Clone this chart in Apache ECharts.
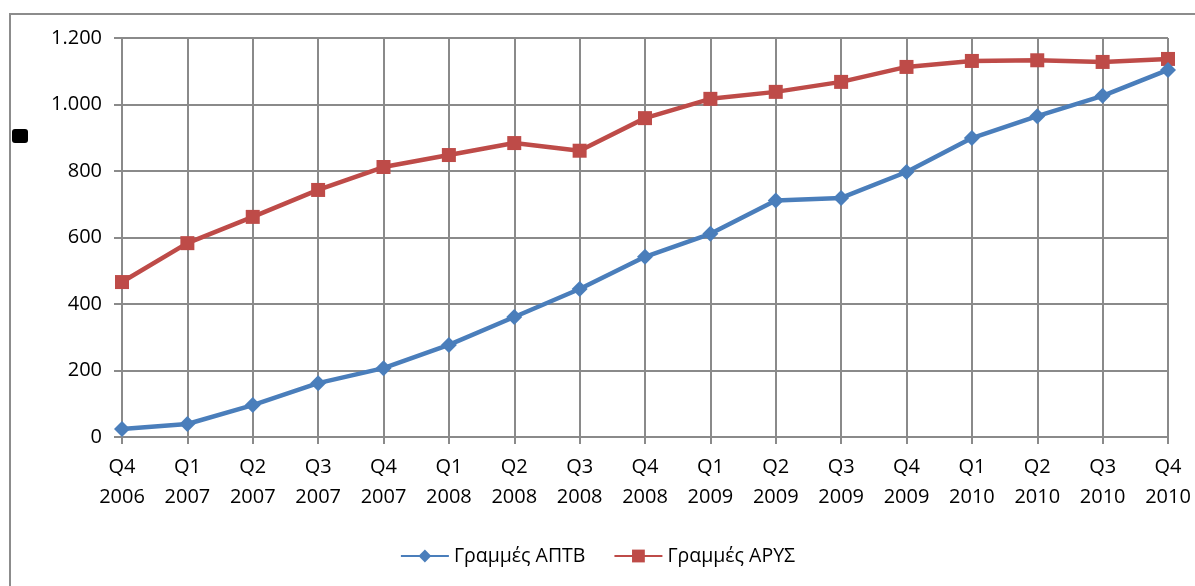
<!DOCTYPE html>
<html>
<head>
<meta charset="utf-8">
<script src="https://cdn.jsdelivr.net/npm/echarts@6/dist/echarts.min.js"></script>
<style>
  html, body { margin: 0; padding: 0; background: #fff; }
  #chart { width: 1195px; height: 586px; }
</style>
</head>
<body>
<div id="chart"></div>
<script>
// 季度类目
var quarters = ['Q4\n2006', 'Q1\n2007', 'Q2\n2007', 'Q3\n2007', 'Q4\n2007', 'Q1\n2008', 'Q2\n2008', 'Q3\n2008',
    'Q4\n2008', 'Q1\n2009', 'Q2\n2009', 'Q3\n2009', 'Q4\n2009', 'Q1\n2010', 'Q2\n2010', 'Q3\n2010', 'Q4\n2010'];
// Γραμμές ΑΠΤΒ
var aptbValues = [24, 39, 96, 162, 207, 277, 361, 445, 542, 611, 711, 719, 797, 899, 965, 1026, 1104];
// Γραμμές ΑΡΥΣ
var arysValues = [466, 583, 662, 743, 812, 848, 884, 861, 959, 1017, 1038, 1068, 1113, 1131, 1133, 1128, 1137];

var seriesNames = ['Γραμμές ΑΠΤΒ', 'Γραμμές ΑΡΥΣ'];
var fontName = 'Open Sans';

var myChart = echarts.init(document.getElementById('chart'));

var option = {
    animation: false,
    backgroundColor: '#fff',
    graphic: [
        {
            type: 'rect',
            shape: { x: 10, y: 14, width: 1200, height: 600 },
            style: { fill: 'none', stroke: '#8c8c8c', lineWidth: 2 },
            z: -1
        },
        {
            // 左侧的黑色小标记
            type: 'rect',
            shape: { x: 12, y: 129, width: 16, height: 14, r: 3 },
            style: { fill: '#000' }
        }
    ],
    legend: {
        bottom: 15,
        left: 'center',
        itemWidth: 48,
        itemHeight: 16,
        itemGap: 28,
        textStyle: { fontFamily: fontName, fontSize: 19.5, color: '#000' },
        data: seriesNames
    },
    grid: {
        left: 122,
        right: 27,
        top: 38,
        bottom: 149,
        containLabel: false
    },
    xAxis: {
        type: 'category',
        data: quarters,
        boundaryGap: false,
        axisLine: { lineStyle: { color: '#8a8a8a', width: 2 } },
        axisTick: { show: true, length: 7, lineStyle: { color: '#8a8a8a', width: 2 } },
        splitLine: { show: true, lineStyle: { color: '#8a8a8a', width: 2 } },
        axisLabel: {
            fontFamily: fontName,
            fontSize: 20,
            color: '#000',
            lineHeight: 30,
            margin: 15,
            interval: 0
        }
    },
    yAxis: {
        type: 'value',
        min: 0,
        max: 1200,
        interval: 200,
        axisLine: { show: true, lineStyle: { color: '#8a8a8a', width: 2 } },
        axisTick: { show: true, length: 8, lineStyle: { color: '#8a8a8a', width: 2 } },
        splitLine: { show: true, lineStyle: { color: '#8a8a8a', width: 2 } },
        axisLabel: {
            fontFamily: fontName,
            fontSize: 20,
            color: '#000',
            margin: 20,
            formatter: function (v) {
                // 千位分隔符用点号
                return String(v).replace(/\B(?=(\d{3})+(?!\d))/g, '.');
            }
        }
    },
    series: [
        {
            name: seriesNames[0],
            type: 'line',
            data: aptbValues,
            symbol: 'diamond',
            symbolSize: 16,
            lineStyle: { color: '#4a7ebb', width: 4.5 },
            itemStyle: { color: '#4a7ebb' },
            z: 3
        },
        {
            name: seriesNames[1],
            type: 'line',
            data: arysValues,
            symbol: 'rect',
            symbolSize: 14,
            lineStyle: { color: '#be4b48', width: 4.5 },
            itemStyle: { color: '#be4b48' },
            z: 2
        }
    ]
};

myChart.setOption(option);
</script>
</body>
</html>
